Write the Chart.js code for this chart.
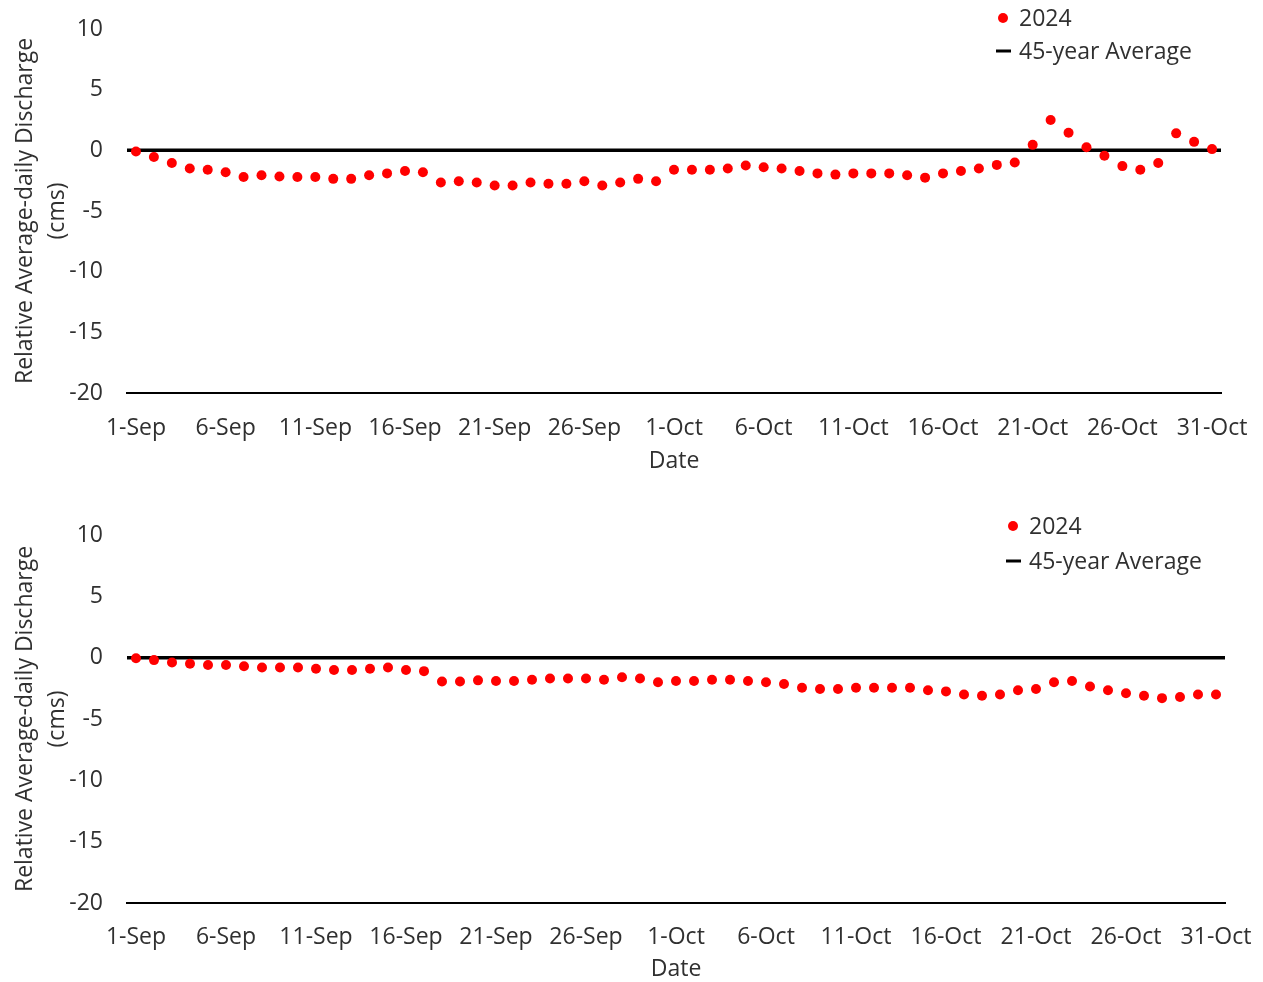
<!DOCTYPE html>
<html>
<head>
<meta charset="utf-8">
<script src="https://cdn.jsdelivr.net/npm/chart.js@4.4.1/dist/chart.umd.min.js"></script>
<style>
    html, body { margin: 0; padding: 0; background: #fff; overflow: hidden; }
    .panel { position: absolute; left: 0; width: 1263px; }
    #panelTop { top: 0; height: 480px; }
    #panelBottom { top: 497px; height: 485px; }
</style>
</head>
<body>
<div class="panel" id="panelTop"><canvas id="chartTop"></canvas></div>
<div class="panel" id="panelBottom"><canvas id="chartBottom"></canvas></div>
<script>
// tick labels on the date axis (every 5th day, day index from 1-Sep)
const tickDays = [0, 5, 10, 15, 20, 25, 30, 35, 40, 45, 50, 55, 60];
const tickLabels = ["1-Sep", "6-Sep", "11-Sep", "16-Sep", "21-Sep", "26-Sep", "1-Oct",
    "6-Oct", "11-Oct", "16-Oct", "21-Oct", "26-Oct", "31-Oct"];

// relative average-daily discharge (cms), 1-Sep .. 31-Oct 2024
const topValues = [
    -0.1, -0.55, -1.05, -1.5, -1.6, -1.8, -2.2, -2.05, -2.15, -2.2,
    -2.2, -2.35, -2.35, -2.05, -1.9, -1.7, -1.8, -2.65, -2.55, -2.65,
    -2.9, -2.9, -2.65, -2.75, -2.75, -2.55, -2.9, -2.65, -2.35, -2.55,
    -1.6, -1.6, -1.6, -1.5, -1.25, -1.4, -1.5, -1.7, -1.9, -2.0,
    -1.9, -1.9, -1.9, -2.05, -2.25, -1.9, -1.7, -1.5, -1.2, -1.0,
    0.45, 2.5, 1.45, 0.25, -0.45, -1.3, -1.6, -1.05, 1.4, 0.7,
    0.1
];
const bottomValues = [
    -0.05, -0.2, -0.4, -0.5, -0.6, -0.6, -0.7, -0.8, -0.8, -0.8,
    -0.9, -1.0, -1.0, -0.9, -0.8, -1.0, -1.1, -1.95, -1.95, -1.85,
    -1.9, -1.9, -1.8, -1.7, -1.7, -1.7, -1.8, -1.6, -1.7, -2.0,
    -1.9, -1.9, -1.8, -1.8, -1.9, -2.0, -2.15, -2.45, -2.55, -2.55,
    -2.45, -2.45, -2.45, -2.45, -2.65, -2.75, -3.0, -3.1, -3.0, -2.65,
    -2.55, -2.0, -1.9, -2.35, -2.65, -2.9, -3.1, -3.3, -3.2, -3.0,
    -3.0
];

// 45-year average is the reference level (relative discharge 0)
const averageLevel = 0;
const yTicks = { min: -20, max: 10, step: 5 };
const xBounds = [-0.5, 60.5];

const seriesNames = ["2024", "45-year Average"];
const textColor = "#303030";
const fontFamily = "'Open Sans', 'Noto Sans', sans-serif";

/* Draws the two-row legend in the upper right corner of the plot. */
const cornerLegend = {
    id: "cornerLegend",
    afterDraw(chart, args, opts) {
        const ctx = chart.ctx;
        const sets = chart.data.datasets;
        ctx.save();
        ctx.font = "23px " + fontFamily;
        ctx.textBaseline = "middle";
        ctx.textAlign = "left";
        sets.forEach((ds, i) => {
            const y = opts.y + i * opts.gap;
            if (ds.showLine) {
                ctx.strokeStyle = ds.borderColor;
                ctx.lineWidth = 3;
                ctx.beginPath();
                ctx.moveTo(opts.x - 23, y);
                ctx.lineTo(opts.x - 8, y);
                ctx.stroke();
            } else {
                ctx.fillStyle = ds.backgroundColor;
                ctx.beginPath();
                ctx.arc(opts.x - 16, y, 5, 0, Math.PI * 2);
                ctx.fill();
            }
            ctx.fillStyle = textColor;
            ctx.fillText(ds.label, opts.x, y + 1);
        });
        ctx.restore();
    },
};

function buildChart(canvasId, values, layout) {
    const ctx = document.getElementById(canvasId);
    return new Chart(ctx, {
        type: "scatter",
        data: {
            datasets: [
                {
                    label: seriesNames[0],
                    data: values.map((v, i) => ({ x: i, y: v })),
                    backgroundColor: "#FF0000",
                    borderColor: "#FF0000",
                    pointRadius: 5,
                    pointBorderWidth: 0,
                    showLine: false,
                },
                {
                    label: seriesNames[1],
                    data: [
                        { x: xBounds[0], y: averageLevel },
                        { x: xBounds[1], y: averageLevel },
                    ],
                    borderColor: "#000000",
                    backgroundColor: "#000000",
                    borderWidth: 3.5,
                    pointRadius: 0,
                    showLine: true,
                },
            ],
        },
        options: {
            responsive: true,
            maintainAspectRatio: false,
            animation: false,
            layout: {
                padding: { top: layout.top, bottom: layout.bottom, left: 0, right: layout.right },
            },
            plugins: {
                legend: { display: false },
                tooltip: { enabled: false },
                cornerLegend: layout.legend,
            },
            scales: {
                x: {
                    type: "linear",
                    min: xBounds[0],
                    max: xBounds[1],
                    grid: { display: false, drawTicks: false },
                    border: { display: true, color: "#000000", width: 2 },
                    afterBuildTicks: (scale) => {
                        scale.ticks = tickDays.map((d) => ({ value: d }));
                    },
                    afterFit: (scale) => {
                        scale.height = layout.xHeight;
                        scale.paddingLeft = 0;
                        scale.paddingRight = 0;
                    },
                    ticks: {
                        padding: layout.tickPad,
                        color: textColor,
                        font: { family: fontFamily, size: 23 },
                        maxRotation: 0,
                        callback: (value) => tickLabels[tickDays.indexOf(value)],
                    },
                    title: {
                        display: true,
                        text: "Date",
                        color: textColor,
                        font: { family: fontFamily, size: 23, lineHeight: 1.0 },
                        padding: { top: 0, bottom: 0 },
                    },
                },
                y: {
                    min: yTicks.min,
                    max: yTicks.max,
                    grid: { display: false, drawTicks: false },
                    border: { display: false },
                    afterFit: (scale) => {
                        scale.width = 127;
                        scale.paddingTop = 0;
                        scale.paddingBottom = 0;
                    },
                    ticks: {
                        stepSize: yTicks.step,
                        padding: 24,
                        color: textColor,
                        font: { family: fontFamily, size: 23 },
                    },
                    title: {
                        display: true,
                        text: ["Relative Average-daily Discharge", "(cms)"],
                        color: textColor,
                        font: { family: fontFamily, size: 23, lineHeight: 1.4 },
                        padding: { top: 9, bottom: 0 },
                    },
                },
            },
        },
        plugins: [cornerLegend],
    });
}

document.addEventListener("DOMContentLoaded", function () {
    buildChart("chartTop", topValues, {
        top: 29, bottom: 7.5, right: 42, tickPad: 22, xHeight: 79.5,
        legend: { x: 1019, y: 18, gap: 33 },
    });
    buildChart("chartBottom", bottomValues, {
        top: 38, bottom: 1.5, right: 38, tickPad: 21, xHeight: 77.5,
        legend: { x: 1029, y: 29, gap: 35 },
    });
});
</script>
</body>
</html>
